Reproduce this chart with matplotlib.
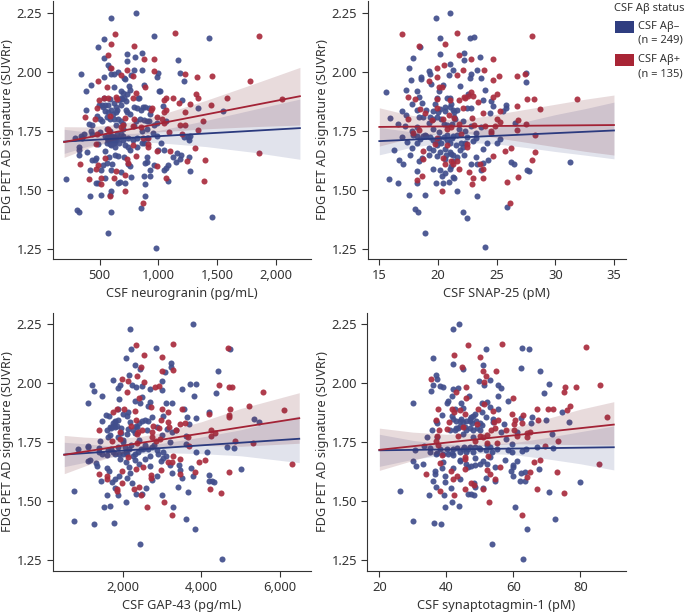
import matplotlib
matplotlib.use('Agg')
import matplotlib.pyplot as plt
from matplotlib.patches import Rectangle

plt.rcParams['font.family'] = ['Noto Sans', 'DejaVu Sans']
plt.rcParams['font.size'] = 9
dark = '#333333'
blue = '#2b3a7e'
red = '#a32336'

# points, (x, y)
neurogranin_neg = [(599,2.23),(808,2.25),(963,2.15),(1425,2.145),(540,2.141),(490,2.105),(735,2.075),(860,2.08),(800,2.065),(540,2.06),(570,2.03),(590,2.015),(735,2.047),(1165,2.05),(345,1.99),(600,1.99),(625,1.99),(660,2.0),(790,2.01),(860,2.007),(1000,1.997),(985,1.977),(1180,1.995),(1215,1.96),(710,1.975),(720,1.97),(765,1.985),(535,1.98),(430,1.945),(385,1.917),(880,1.945),(1005,1.92),(1015,1.92),(620,1.935),(680,1.92),(700,1.91),(750,1.94),(760,1.925),(735,1.905),(835,1.89),(830,1.89),(540,1.89),(590,1.885),(690,1.885),(710,1.89),(1200,1.88),(385,1.837),(495,1.86),(520,1.86),(530,1.85),(545,1.835),(570,1.83),(620,1.87),(640,1.85),(680,1.86),(725,1.875),(725,1.84),(730,1.83),(820,1.845),(870,1.85),(890,1.85),(920,1.845),(1035,1.855),(1335,1.845),(1550,1.835),(480,1.815),(500,1.80),(520,1.79),(560,1.81),(590,1.80),(615,1.82),(640,1.83),(660,1.80),(680,1.79),(700,1.78),(760,1.82),(840,1.80),(875,1.795),(920,1.79),(965,1.775),(1060,1.79),(410,1.78),(440,1.775),(430,1.75),(505,1.745),(560,1.76),(590,1.75),(640,1.775),(700,1.76),(790,1.77),(950,1.74),(985,1.73),(1250,1.725),(1265,1.73),(1260,1.71),(1220,1.725),(340,1.73),(370,1.735),(290,1.72),(330,1.68),(355,1.72),(325,1.67),(330,1.65),(390,1.66),(440,1.735),(490,1.695),(560,1.72),(575,1.71),(590,1.73),(600,1.715),(610,1.70),(620,1.725),(640,1.72),(650,1.735),(585,1.695),(600,1.69),(630,1.68),(665,1.70),(700,1.71),(720,1.69),(740,1.68),(760,1.67),(820,1.68),(880,1.70),(900,1.72),(1025,1.70),(1045,1.67),(1000,1.67),(545,1.665),(580,1.64),(630,1.65),(660,1.645),(710,1.64),(760,1.60),(900,1.64),(1120,1.64),(1150,1.62),(1190,1.65),(1155,1.655),(1255,1.64),(1180,1.63),(470,1.635),(435,1.625),(460,1.625),(610,1.61),(530,1.605),(560,1.615),(900,1.62),(885,1.615),(960,1.605),(1085,1.605),(1060,1.595),(1045,1.585),(420,1.585),(510,1.585),(600,1.585),(680,1.575),(740,1.61),(770,1.555),(880,1.56),(925,1.585),(930,1.56),(1270,1.58),(550,1.55),(670,1.535),(660,1.53),(720,1.53),(1085,1.54),(470,1.53),(485,1.53),(220,1.545),(890,1.527),(600,1.495),(420,1.475),(510,1.48),(590,1.48),(890,1.475),(855,1.425),(310,1.415),(325,1.405),(595,1.405),(1455,1.385),(575,1.318),(975,1.255),
    (575,1.725),(585,1.71),(595,1.705),(605,1.73),(615,1.71),(625,1.70),(635,1.705),(590,1.72),(560,1.70),(545,1.73),(660,1.72),(680,1.735),(700,1.73),(745,1.72),(780,1.71),(820,1.72),(860,1.75),(900,1.76),(900,1.79),(850,1.84),(930,1.82),(985,1.785),(620,1.80),(600,1.84),(570,1.86),(545,1.86),(650,1.84),(665,1.88),(680,1.89),(790,1.85),(810,1.79),(860,1.70)]
neurogranin_pos = [(635,2.16),(1140,2.165),(1850,2.15),(600,2.12),(795,2.11),(575,2.07),(880,2.055),(965,2.053),(600,2.015),(735,2.01),(965,2.005),(680,1.987),(780,1.982),(1225,1.99),(1330,1.98),(1455,1.983),(1780,1.963),(490,1.963),(565,1.935),(890,1.935),(1315,1.905),(1335,1.888),(1580,1.888),(2045,1.885),(495,1.88),(540,1.89),(570,1.89),(640,1.895),(650,1.885),(780,1.89),(810,1.91),(1060,1.89),(1050,1.88),(1120,1.888),(1175,1.87),(1265,1.862),(1445,1.858),(480,1.845),(1060,1.84),(1050,1.83),(935,1.84),(945,1.845),(1225,1.83),(380,1.808),(460,1.80),(590,1.815),(720,1.805),(790,1.80),(985,1.81),(1030,1.80),(1050,1.785),(1180,1.775),(1225,1.775),(1375,1.79),(1335,1.755),(700,1.775),(680,1.765),(780,1.77),(850,1.765),(570,1.76),(580,1.75),(480,1.735),(1090,1.745),(1200,1.735),(865,1.72),(910,1.72),(780,1.69),(910,1.695),(910,1.68),(470,1.695),(1100,1.665),(990,1.665),(1310,1.678),(1850,1.658),(810,1.645),(545,1.635),(335,1.612),(490,1.605),(730,1.63),(740,1.615),(1240,1.622),(1395,1.625),(985,1.60),(470,1.59),(640,1.58),(715,1.565),(410,1.545),(510,1.55),(625,1.55),(510,1.527),(1065,1.55),(1385,1.537),(715,1.497),(590,1.475),(870,1.445)]

snap_neg = [(19.8,2.23),(21.05,2.25),(22.75,2.145),(23.05,2.148),(20.2,2.142),(18.45,2.105),(22.2,2.082),(20.2,2.076),(23.6,2.064),(17.85,2.058),(22.25,2.05),(21.0,2.033),(17.5,2.015),(19.2,2.005),(21.3,2.007),(23.3,2.01),(19.35,1.99),(20.9,1.987),(22.85,1.993),(22.75,1.976),(18.55,1.98),(18.55,1.97),(17.7,1.965),(23.7,1.976),(20.45,1.944),(19.4,1.948),(21.9,1.94),(27.5,1.996),(27.5,1.958),(17.25,1.925),(15.55,1.916),(18.25,1.918),(20.05,1.917),(24,1.922),(22.6,1.905),(20.75,1.89),(21.0,1.89),(19.95,1.89),(18.35,1.892),(17.75,1.866),(18.65,1.87),(19.75,1.862),(21.15,1.866),(23.85,1.88),(24.55,1.878),(24.7,1.855),(25.8,1.858),(25.8,1.845),(16.9,1.835),(17.25,1.817),(18.25,1.84),(19,1.84),(19.55,1.834),(20.2,1.844),(20.6,1.835),(21.3,1.84),(21.6,1.84),(22.45,1.849),(22.8,1.845),(24.45,1.827),(25.55,1.835),(15.95,1.803),(18.4,1.81),(18.75,1.807),(19.95,1.81),(20.3,1.80),(21.35,1.81),(21.45,1.80),(22.15,1.793),(26.55,1.785),(16.55,1.778),(17.15,1.773),(19.2,1.785),(18.2,1.765),(20.8,1.775),(22.8,1.77),(23.7,1.765),(17.75,1.748),(16.9,1.725),(17.4,1.704),(17.9,1.732),(18.45,1.718),(18.25,1.70),(18.9,1.733),(19.3,1.725),(20.1,1.746),(20.5,1.725),(20.75,1.732),(21.3,1.728),(21.6,1.732),(22.45,1.725),(23.25,1.74),(23.0,1.708),(25.3,1.714),(25.05,1.70),(19.9,1.69),(17.75,1.676),(19.2,1.676),(16.25,1.669),(19.55,1.669),(20.6,1.672),(21.85,1.669),(22.15,1.683),(23.8,1.673),(17.65,1.648),(19.95,1.644),(21.15,1.652),(22.2,1.648),(18.6,1.636),(18.4,1.624),(23.2,1.638),(16.65,1.627),(17.05,1.608),(21.3,1.624),(22.8,1.608),(23.35,1.612),(23.85,1.615),(24.3,1.626),(26.2,1.62),(26.5,1.611),(31.25,1.62),(19.55,1.591),(20.15,1.584),(20.6,1.574),(21,1.591),(18.25,1.58),(23.7,1.584),(27.6,1.586),(27.8,1.58),(20.35,1.559),(21.25,1.556),(21.4,1.549),(15.85,1.545),(16.55,1.528),(18.25,1.528),(19.85,1.53),(20.45,1.528),(20.9,1.532),(21.6,1.497),(17.55,1.477),(18.9,1.48),(23.35,1.476),(25.9,1.426),(18.0,1.419),(18.3,1.408),(22.1,1.405),(22.45,1.383),(18.9,1.32),(24.05,1.257),
    (19.6,1.71),(19.9,1.70),(20.1,1.72),(20.3,1.70),(20.8,1.71),(21,1.70),(21.2,1.72),(21.5,1.69),(20.2,1.66),(20.7,1.65),(21,1.66),(21.3,1.65),(21.6,1.64),(22,1.70),(22.3,1.70),(20,1.83),(20.6,1.85),(21.4,1.83),(21,1.85),(21.2,1.78),(20.5,1.78),(19.6,1.76),(19,1.73),(18.7,1.73),(18.2,1.73),(19.6,1.80),(19.3,1.81),(21.8,1.76),(22.3,1.75),(23.2,1.72),(24.2,1.70),(20.6,1.63),(21.1,1.60),(19.2,1.65)]
snap_pos = [(16.95,2.162),(21.65,2.165),(28.05,2.151),(18.35,2.11),(20.6,2.12),(21.8,2.071),(22.8,2.054),(24.7,2.053),(20.55,2.029),(19.95,2.016),(22.15,2.006),(23.9,2.009),(19.95,1.98),(21.6,1.988),(26.7,1.983),(27.4,1.99),(25.2,1.982),(24.65,1.964),(19.2,1.962),(20.1,1.934),(20.35,1.936),(22.85,1.913),(17.45,1.893),(18.0,1.886),(22.2,1.892),(22.55,1.90),(23,1.897),(25,1.906),(24.7,1.892),(27.55,1.886),(28.15,1.887),(31.85,1.885),(19.95,1.886),(21,1.88),(21.75,1.88),(22.3,1.888),(23.45,1.873),(18.45,1.842),(19.95,1.845),(22.15,1.845),(26.7,1.856),(28.7,1.844),(25.3,1.834),(18.9,1.824),(20.9,1.817),(23.85,1.827),(17.45,1.802),(19.45,1.796),(20.4,1.80),(21.4,1.803),(22.9,1.803),(25.05,1.80),(25.3,1.789),(26.85,1.798),(21.75,1.779),(23.1,1.776),(21.15,1.768),(20.75,1.76),(24.05,1.773),(24.9,1.773),(27.5,1.778),(24.5,1.751),(24.5,1.742),(26.75,1.754),(18.4,1.756),(17.9,1.74),(19.9,1.722),(19.75,1.694),(22,1.735),(28.3,1.734),(22.45,1.694),(22.45,1.681),(26.2,1.676),(25.7,1.666),(28.25,1.659),(18.75,1.665),(20.75,1.689),(20.45,1.635),(24.7,1.645),(18.7,1.63),(21.15,1.624),(21.6,1.622),(21.25,1.612),(20.6,1.61),(23.6,1.612),(23.85,1.591),(21.8,1.591),(28.0,1.625),(22.65,1.577),(18.6,1.56),(18.25,1.542),(23.8,1.55),(23,1.55),(26.85,1.553),(25.9,1.536),(22.9,1.525),(20.35,1.497),(26.1,1.443)]

gap_neg = [(2180,2.23),(3790,2.25),(2850,2.15),(2205,2.144),(4725,2.147),(2075,2.106),(2315,2.076),(3225,2.085),(3215,2.068),(2435,2.06),(3065,2.048),(4415,2.052),(2155,2.034),(1735,2.016),(3005,2.011),(1215,1.993),(2240,1.992),(1925,1.993),(1880,1.979),(2325,1.983),(2475,1.989),(3700,1.997),(3870,1.996),(3515,1.977),(2700,1.975),(3005,1.97),(1250,1.966),(4375,1.959),(3810,1.948),(1470,1.945),(1900,1.935),(2485,1.943),(1100,1.917),(2305,1.927),(2435,1.918),(2690,1.921),(3090,1.915),(3240,1.918),(2645,1.904),(1880,1.893),(2135,1.88),(3555,1.89),(4185,1.88),(1560,1.866),(1650,1.862),(1990,1.87),(2110,1.862),(2740,1.856),(3030,1.862),(3625,1.859),(3865,1.852),(1465,1.839),(1735,1.833),(1795,1.84),(1880,1.845),(2180,1.838),(2475,1.84),(2560,1.845),(2645,1.839),(3695,1.826),(5345,1.847),(5470,1.838),(1585,1.802),(1670,1.814),(1795,1.816),(1940,1.81),(2350,1.814),(2860,1.814),(3115,1.805),(3240,1.795),(1670,1.78),(1625,1.771),(1880,1.774),(2110,1.785),(3610,1.777),(2010,1.753),(1410,1.757),(860,1.72),(1115,1.735),(1115,1.729),(1395,1.725),(1395,1.71),(1455,1.699),(1625,1.718),(1600,1.696),(1735,1.708),(1880,1.729),(2050,1.732),(2075,1.71),(2205,1.739),(2160,1.72),(2390,1.71),(2520,1.72),(2730,1.732),(2860,1.718),(3030,1.71),(3600,1.743),(4150,1.708),(3865,1.71),(4645,1.732),(4840,1.726),(1100,1.672),(1165,1.675),(1300,1.661),(1330,1.65),(1925,1.679),(2075,1.665),(2305,1.675),(2690,1.69),(2960,1.672),(3030,1.682),(2160,1.647),(3200,1.654),(3440,1.654),(1585,1.64),(1640,1.629),(3455,1.633),(3745,1.643),(5010,1.637),(2180,1.619),(3240,1.621),(1890,1.609),(2860,1.609),(3795,1.607),(4205,1.61),(1440,1.586),(1710,1.58),(1795,1.593),(2220,1.576),(2730,1.59),(3500,1.597),(4205,1.586),(4265,1.586),(4325,1.582),(1805,1.555),(2580,1.558),(3395,1.562),(740,1.544),(1600,1.528),(1865,1.528),(2330,1.532),(2475,1.53),(2985,1.527),(3660,1.54),(2085,1.497),(1525,1.477),(1670,1.48),(3270,1.477),(3600,1.426),(760,1.418),(1260,1.405),(1760,1.408),(3845,1.384),(2440,1.319),(4535,1.257),
    (1700,1.81),(1750,1.82),(1800,1.835),(1850,1.82),(1950,1.79),(2000,1.76),(2130,1.805),(2250,1.80),(2300,1.79),(2330,1.82),(2400,1.83),(2400,1.76),(2450,1.72),(2300,1.70),(2250,1.69),(2100,1.70),(2000,1.70),(1900,1.70),(1800,1.70),(1700,1.72),(2550,1.74),(2650,1.72),(2800,1.74),(2900,1.70),(3100,1.69),(3000,1.78),(2600,1.80),(2550,1.68),(2400,1.66),(2100,1.60),(2700,1.65),(3200,1.75),(3350,1.80)]
gap_pos = [(2325,2.164),(3270,2.167),(4690,2.151),(2535,2.121),(2995,2.112),(2470,2.071),(3005,2.054),(3275,2.055),(2350,2.03),(1965,2.017),(2130,2.01),(2530,2.007),(4460,1.992),(2815,1.983),(2910,1.987),(4715,1.983),(4790,1.986),(2110,1.963),(5585,1.965),(2415,1.936),(5225,1.905),(6110,1.888),(4730,1.89),(1840,1.893),(2025,1.891),(2705,1.9),(3005,1.893),(3500,1.891),(2300,1.881),(3155,1.88),(1755,1.879),(4205,1.871),(4715,1.864),(4715,1.859),(2970,1.845),(3155,1.838),(2330,1.845),(3455,1.828),(3590,1.833),(2195,1.819),(2755,1.819),(1385,1.802),(1925,1.795),(2475,1.802),(2930,1.81),(3175,1.814),(2730,1.795),(4240,1.802),(2385,1.795),(3345,1.8),(2350,1.785),(2750,1.774),(1925,1.766),(3665,1.774),(4245,1.778),(4350,1.788),(1710,1.757),(2945,1.763),(2350,1.746),(2845,1.757),(5325,1.746),(4860,1.756),(3685,1.734),(3285,1.693),(2135,1.689),(3455,1.678),(3155,1.665),(3240,1.668),(4095,1.675),(3940,1.668),(2500,1.647),(2325,1.636),(6305,1.66),(2970,1.632),(1965,1.629),(4715,1.626),(3845,1.623),(1385,1.614),(1585,1.607),(2705,1.612),(2705,1.597),(3455,1.614),(1585,1.595),(1965,1.579),(2415,1.562),(1840,1.552),(1840,1.544),(2280,1.551),(4220,1.554),(4495,1.537),(2450,1.525),(3045,1.497),(2615,1.475),(3240,1.444)]

syt_neg = [(41.9,2.232),(43.9,2.25),(51.85,2.144),(62.6,2.15),(64.6,2.147),(36.0,2.106),(41.9,2.082),(50.95,2.076),(62.3,2.065),(45.1,2.059),(68.0,2.051),(36.9,2.034),(37.1,2.017),(53.05,2.013),(49.75,2.01),(36.1,1.993),(38.1,1.99),(39.1,1.983),(55.3,1.994),(51.25,1.992),(70.55,1.997),(56.3,1.979),(42.1,1.975),(43.6,1.979),(35.5,1.966),(69.25,1.959),(41.6,1.946),(46.65,1.944),(55.3,1.948),(29.95,1.917),(40.1,1.918),(44.4,1.918),(58.5,1.924),(50.75,1.915),(52.05,1.921),(40.6,1.927),(53.05,1.901),(42.6,1.891),(45.1,1.894),(55.3,1.891),(50.55,1.88),(48.55,1.87),(47.25,1.859),(38.7,1.866),(41.8,1.862),(65.45,1.857),(62.2,1.852),(74.45,1.88),(36.9,1.842),(44.1,1.842),(45.1,1.838),(47.05,1.842),(53.85,1.847),(51.85,1.856),(69.65,1.846),(76.7,1.838),(65.2,1.833),(37.1,1.83),(47.55,1.83),(50.55,1.823),(54.05,1.838),(57.2,1.828),(35.8,1.802),(42.6,1.802),(43.6,1.81),(45.6,1.816),(47.05,1.81),(49.05,1.81),(56.3,1.795),(61,1.795),(71.65,1.787),(34.3,1.774),(37.1,1.774),(45.1,1.785),(48.05,1.771),(57.8,1.763),(59.5,1.743),(33.35,1.735),(30.65,1.718),(35.1,1.725),(35.1,1.71),(37.3,1.706),(40.1,1.72),(41.7,1.703),(42.1,1.696),(43.3,1.727),(45.3,1.732),(46.55,1.72),(48.55,1.732),(49.85,1.725),(53.05,1.732),(51.85,1.718),(53.65,1.71),(58.5,1.718),(59.5,1.71),(62.7,1.713),(63.7,1.72),(67,1.732),(71.95,1.725),(29.95,1.671),(30.95,1.65),(33.15,1.66),(39.1,1.668),(44.1,1.675),(46.55,1.647),(48.55,1.682),(48.55,1.654),(51.05,1.672),(53.05,1.689),(57.5,1.675),(60,1.654),(61,1.672),(54.55,1.644),(67.65,1.637),(60,1.644),(36.6,1.629),(36.6,1.614),(38.6,1.64),(39.6,1.609),(59.2,1.629),(60,1.607),(62.3,1.619),(63.5,1.623),(36.1,1.586),(39.7,1.58),(44.1,1.595),(51.85,1.597),(54.65,1.588),(62,1.586),(63.5,1.586),(80,1.58),(36.8,1.559),(41.3,1.555),(48.25,1.576),(48.55,1.562),(51.05,1.558),(26.25,1.544),(34.95,1.528),(39.3,1.528),(46.55,1.532),(47.25,1.531),(48.35,1.528),(70.75,1.54),(41.7,1.497),(39.5,1.477),(43.8,1.48),(60.5,1.477),(72.45,1.426),(29.95,1.418),(36.3,1.408),(38.3,1.405),(64,1.384),(53.55,1.319),(63,1.257),
    (42,1.85),(43,1.84),(44.5,1.85),(46,1.84),(47,1.85),(48,1.86),(49,1.84),(50,1.83),(43,1.81),(44,1.82),(41,1.80),(46,1.80),(48,1.80),(50,1.80),(42,1.72),(44,1.71),(45,1.72),(46,1.71),(47,1.73),(48,1.71),(50,1.72),(52,1.74),(55,1.72),(37,1.70),(38,1.72),(39,1.70),(40.5,1.70),(44,1.67),(46,1.66),(47.5,1.65),(50,1.66),(52,1.66),(42,1.64)]
syt_pos = [(46.35,2.164),(56.5,2.165),(81.6,2.153),(42.2,2.121),(50.05,2.112),(44.7,2.071),(50.85,2.054),(54.9,2.054),(51.75,2.03),(35.3,2.017),(51.35,2.007),(85.85,1.992),(78.8,1.986),(75.4,1.983),(45.75,1.983),(75.05,1.963),(42.8,1.963),(60,1.936),(45.75,1.936),(51.25,1.914),(77,1.905),(37.5,1.893),(41.8,1.893),(44.1,1.887),(49.55,1.89),(67.15,1.89),(70.45,1.891),(71.75,1.89),(76,1.888),(88.05,1.859),(59.5,1.871),(54,1.881),(42.3,1.879),(63,1.864),(45.7,1.87),(36.8,1.845),(55.5,1.845),(60.6,1.845),(67.45,1.845),(62.5,1.833),(60.2,1.828),(49.25,1.828),(54.3,1.838),(40.9,1.835),(45.1,1.814),(40.1,1.808),(37.9,1.802),(54.55,1.81),(53.25,1.8),(57.8,1.8),(60.3,1.802),(65,1.795),(64,1.788),(50.05,1.778),(52.05,1.781),(51,1.774),(64.2,1.774),(61,1.777),(37.3,1.777),(43.6,1.775),(36.8,1.756),(52,1.746),(73.45,1.756),(37.6,1.739),(48.55,1.756),(55,1.746),(69.55,1.734),(38.6,1.696),(45.65,1.689),(52.55,1.693),(45.65,1.679),(68,1.675),(66.25,1.667),(38.2,1.664),(85.65,1.658),(56,1.646),(45.65,1.636),(33.95,1.614),(72.95,1.626),(52.25,1.631),(65,1.623),(41.3,1.629),(53.05,1.614),(43.1,1.609),(64.2,1.604),(41.9,1.593),(54.55,1.593),(47.25,1.576),(48.25,1.569),(45.65,1.552),(51.05,1.552),(67.15,1.554),(38.2,1.544),(75.1,1.537),(42.4,1.526),(52.85,1.497),(62.5,1.444)]

# confidence bands, read at a few x positions
neurogranin_x = [200,400,600,800,1000,1400,1800,2200]
neurogranin_neg_hi = [1.757,1.745,1.737,1.740,1.752,1.794,1.84,1.885]
neurogranin_neg_lo = [1.655,1.685,1.70,1.705,1.70,1.684,1.66,1.63]
neurogranin_pos_hi = [1.768,1.767,1.775,1.791,1.816,1.879,1.948,2.019]
neurogranin_pos_lo = [1.638,1.677,1.709,1.731,1.746,1.759,1.768,1.775]
snap_x = [15,17.5,20,22.5,25,27.5,30,32.5,35]
snap_neg_hi = [1.765,1.748,1.738,1.746,1.765,1.79,1.819,1.844,1.872]
snap_neg_lo = [1.649,1.678,1.698,1.702,1.695,1.68,1.663,1.648,1.632]
snap_pos_hi = [1.848,1.818,1.799,1.80,1.821,1.842,1.863,1.884,1.902]
snap_pos_lo = [1.686,1.718,1.739,1.74,1.721,1.702,1.683,1.664,1.648]
gap_x = [500,1000,1500,2000,2500,3000,4000,5000,6500]
gap_neg_hi = [1.75,1.744,1.737,1.735,1.737,1.746,1.772,1.803,1.862]
gap_neg_lo = [1.647,1.664,1.681,1.695,1.703,1.706,1.702,1.693,1.664]
gap_pos_hi = [1.779,1.772,1.768,1.768,1.776,1.792,1.837,1.893,1.96]
gap_pos_lo = [1.617,1.648,1.678,1.704,1.722,1.732,1.737,1.733,1.746]
syt_x = [20,30,40,50,60,70,80,90]
syt_neg_hi = [1.784,1.758,1.742,1.74,1.748,1.77,1.795,1.819]
syt_neg_lo = [1.648,1.678,1.698,1.704,1.698,1.68,1.659,1.633]
syt_pos_hi = [1.81,1.793,1.784,1.791,1.814,1.85,1.89,1.922]
syt_pos_lo = [1.631,1.673,1.714,1.737,1.744,1.742,1.74,1.738]

# fit line value at both ends of each band
neurogranin_fit = ([1.705,1.762],[1.703,1.897])
snap_fit = ([1.707,1.752],[1.767,1.775])
gap_fit = ([1.698,1.765],[1.697,1.852])
syt_fit = ([1.716,1.729],[1.718,1.825])

y_ticks = [1.25,1.50,1.75,2.00,2.25]

W, H = 685, 613
fig = plt.figure(figsize=(W/100, H/100), dpi=100)

panels = [
    # px box (left, right, top, bottom), xlim, ylim, ticks, tick labels, xlabel, data
    ((52.7,311,1,259), (103,2294), (1.208,2.30), [500,1000,1500,2000], ['500','1,000','1,500','2,000'], 'CSF neurogranin (pg/mL)',
     neurogranin_neg, neurogranin_pos, neurogranin_x, neurogranin_neg_hi, neurogranin_neg_lo, neurogranin_pos_hi, neurogranin_pos_lo, neurogranin_fit),
    ((367.7,625.7,1,259), (14.01,36.0), (1.208,2.30), [15,20,25,30,35], ['15','20','25','30','35'], 'CSF SNAP-25 (pM)',
     snap_neg, snap_pos, snap_x, snap_neg_hi, snap_neg_lo, snap_pos_hi, snap_pos_lo, snap_fit),
    ((52.7,311,312.7,570.7), (205,6800), (1.206,2.299), [2000,4000,6000], ['2,000','4,000','6,000'], 'CSF GAP-43 (pg/mL)',
     gap_neg, gap_pos, gap_x, gap_neg_hi, gap_neg_lo, gap_pos_hi, gap_pos_lo, gap_fit),
    ((367.3,625.7,312.7,570.7), (16.4,93.55), (1.206,2.299), [20,40,60,80], ['20','40','60','80'], 'CSF synaptotagmin-1 (pM)',
     syt_neg, syt_pos, syt_x, syt_neg_hi, syt_neg_lo, syt_pos_hi, syt_pos_lo, syt_fit),
]

for box, xlim, ylim, ticks, tick_labels, xlabel, neg, pos, bx, nh, nl, ph, pl, fit in panels:
    ax = fig.add_axes([box[0]/W, 1-box[3]/H, (box[1]-box[0])/W, (box[3]-box[2])/H])
    ax.scatter(*zip(*neg), s=19, color='#414e8c', alpha=0.92, linewidths=0, zorder=2)
    ax.scatter(*zip(*pos), s=19, color='#aa2c3e', alpha=0.92, linewidths=0, zorder=2)
    ax.fill_between(bx, nl, nh, color=blue, alpha=0.14, linewidth=0, zorder=3)
    ax.fill_between(bx, pl, ph, color='#7a2a35', alpha=0.17, linewidth=0, zorder=3)
    ax.plot([bx[0], bx[-1]], fit[0], color=blue, lw=1.3, zorder=4)
    ax.plot([bx[0], bx[-1]], fit[1], color=red, lw=1.3, zorder=5)
    ax.set_xlim(xlim)
    ax.set_ylim(ylim)
    ax.set_xticks(ticks, tick_labels)
    ax.set_yticks(y_ticks, ['%.2f' % v for v in y_ticks])
    ax.tick_params(length=4.5, width=0.8, color=dark, labelcolor=dark, labelsize=9.3, pad=3)
    ax.spines[['top','right']].set_visible(False)
    ax.spines[['left','bottom']].set_color(dark)
    ax.spines[['left','bottom']].set_linewidth(0.8)
    ax.set_xlabel(xlabel, color=dark, fontsize=9.2, labelpad=3.5)
    ax.set_ylabel('FDG PET AD signature (SUVRr)', color=dark, fontsize=9.2, labelpad=2)

# legend drawn by hand, the first label line sits beside the swatch
leg_size = 8
fig.text(614/W, 1-8/H, 'CSF Aβ status', color=dark, fontsize=leg_size, va='center')
for top, col, name, count in [(20.7, '#2f3d80', 'CSF Aβ–', '(n = 249)'), (54, '#a82535', 'CSF Aβ+', '(n = 135)')]:
    fig.add_artist(Rectangle((614.7/W, 1-(top+12)/H), 19/W, 12/H, transform=fig.transFigure, facecolor=col, edgecolor='none'))
    fig.text(638/W, 1-(top+5.5)/H, name, color=dark, fontsize=leg_size, va='center')
    fig.text(638/W, 1-(top+19.5)/H, count, color=dark, fontsize=leg_size, va='center')

fig.savefig('out.png', dpi=100)
